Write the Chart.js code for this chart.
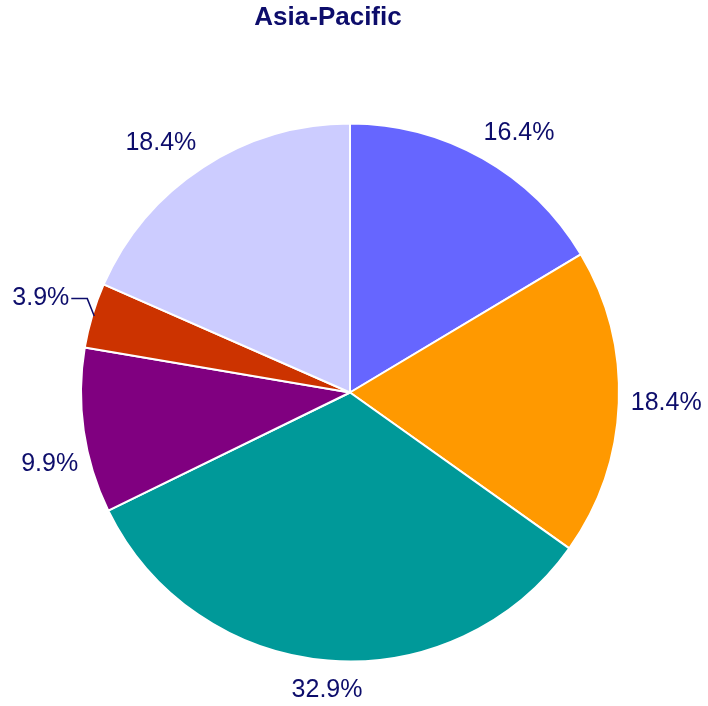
<!DOCTYPE html>
<html>
<head>
<meta charset="utf-8">
<script src="https://cdn.jsdelivr.net/npm/chart.js@4.4.1/dist/chart.umd.min.js"></script>
<style>
  html, body { margin: 0; padding: 0; background: #fff; }
  #wrap { width: 708px; height: 706px; position: relative; }
</style>
</head>
<body>
<div id="wrap"><canvas id="c" width="708" height="706"></canvas></div>
<script>
// Data (clockwise from 12 o'clock)
const categories = ['A', 'B', 'C', 'D', 'E', 'F'];
const shares = [16.4, 18.4, 32.9, 9.9, 3.9, 18.4];
const sliceColors = ['#6666ff', '#ff9900', '#009999', '#800080', '#cc3300', '#ccccff'];
const titleText = 'Asia-Pacific';

const navy = '#0d0d6b';
const labelFont = '25px "Liberation Sans", Arial, sans-serif';

// small angular nudges (degrees) for crowded labels, by index
const labelShift = { 3: -6.5, 4: 3 };

const outsideLabels = {
  id: 'outsideLabels',
  afterDraw(chart) {
    const ctx = chart.ctx;
    const meta = chart.getDatasetMeta(0);
    ctx.save();
    // title
    ctx.fillStyle = navy;
    ctx.font = 'bold 26px "Liberation Sans", Arial, sans-serif';
    ctx.textAlign = 'center';
    ctx.textBaseline = 'middle';
    ctx.fillText(titleText, 328, 18);

    ctx.font = labelFont;
    meta.data.forEach((arc, i) => {
      const {x, y, startAngle, endAngle, outerRadius} = arc.getProps(['x', 'y', 'startAngle', 'endAngle', 'outerRadius'], true);
      const mid = (startAngle + endAngle) / 2;
      const text = shares[i].toFixed(1) + '%';
      const a = mid + (labelShift[i] || 0) * Math.PI / 180;
      const cs = Math.cos(a), sn = Math.sin(a);
      let ax = x + (outerRadius + 12) * cs;
      let ay = y + (outerRadius + 12) * sn;
      if (shares[i] < 5) {
        // leader line for thin slice
        const ex = x + (outerRadius - 2) * Math.cos(mid);
        const ey = y + (outerRadius - 2) * Math.sin(mid);
        const bx = x + (outerRadius + 10) * cs;
        const by = y + (outerRadius + 10) * sn;
        ctx.strokeStyle = navy;
        ctx.lineWidth = 1.5;
        ctx.beginPath();
        ctx.moveTo(ex, ey);
        ctx.lineTo(bx, by);
        ctx.lineTo(bx - 16, by);
        ctx.stroke();
        ctx.textAlign = 'right';
        ctx.textBaseline = 'middle';
        ctx.fillText(text, bx - 18, by);
        return;
      }
      ctx.textAlign = cs > 0.3 ? 'left' : (cs < -0.3 ? 'right' : 'center');
      ctx.textBaseline = sn < -0.3 ? 'bottom' : (sn > 0.3 ? 'top' : 'middle');
      if (ctx.textBaseline === 'bottom') ay -= 2;
      if (ctx.textBaseline === 'top') ay += 5;
      if (ctx.textAlign === 'left' && sn < -0.3) ax -= 5;
      ctx.fillText(text, ax, ay);
    });
    ctx.restore();
  }
};

new Chart(document.getElementById('c'), {
  type: 'pie',
  data: {
    labels: categories,
    datasets: [{
      data: shares,
      backgroundColor: sliceColors,
      borderColor: '#ffffff',
      borderWidth: 2
    }]
  },
  options: {
    responsive: false,
    animation: false,
    radius: 269,
    layout: { padding: { top: 100, bottom: 21, left: 20, right: 28 } },
    plugins: {
      legend: { display: false },
      title: { display: false },
      tooltip: { enabled: false }
    }
  },
  plugins: [outsideLabels]
});
</script>
</body>
</html>
